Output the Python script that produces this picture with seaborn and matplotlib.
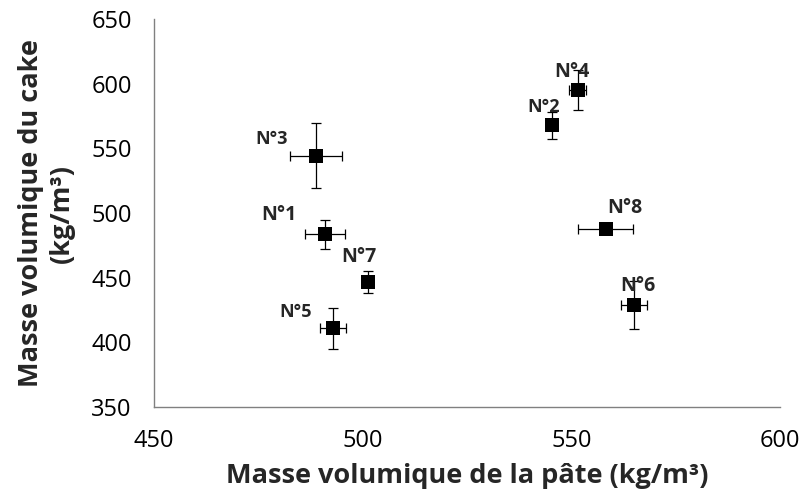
import matplotlib
matplotlib.use("Agg")
import matplotlib.pyplot as plt
import pandas as pd
import seaborn as sns

# values
labels = ["N°1", "N°2", "N°3", "N°4", "N°5", "N°6", "N°7", "N°8"]
pate = [491.0, 545.3, 488.8, 551.5, 492.9, 565.0, 501.2, 558.2]
cake = [483.5, 567.8, 544.3, 595.1, 410.8, 428.8, 446.6, 487.4]
pate_err = [4.7, 1.0, 6.2, 2.0, 3.1, 3.1, 1.0, 6.6]
cake_err = [11.0, 10.4, 25.0, 15.5, 15.7, 18.8, 8.6, 1.0]

# label offsets in points, and font size per label
label_dx = [-33, -6, -32, -4, -27, 3, -6, 14]
label_dy = [14, 13, 12, 13, 12, 14, 18, 15]
label_fs = [14, 13, 13, 14, 13, 14, 14, 14]

df = pd.DataFrame({"label": labels, "pate": pate, "cake": cake})

sns.set_style("white")
plt.rcParams["font.family"] = ["Open Sans", "DejaVu Sans"]

fig = plt.figure(figsize=(8.02, 5.01), dpi=100)
ax = fig.add_axes([0.192, 0.1876, 0.7806, 0.7744])

ax.errorbar(df["pate"], df["cake"], xerr=pate_err, yerr=cake_err, fmt="none",
            ecolor="black", elinewidth=0.9, capsize=3.5, capthick=0.9, zorder=2)
sns.scatterplot(data=df, x="pate", y="cake", marker="s", s=100, color="black",
                edgecolor="black", linewidth=0, ax=ax, zorder=3)

for i, lab in enumerate(labels):
    ax.annotate(lab, (pate[i], cake[i]), xytext=(label_dx[i], label_dy[i]),
                textcoords="offset points", ha="center", va="center",
                fontsize=label_fs[i], fontweight="bold")

ax.set_xlim(450, 600)
ax.set_ylim(350, 650)
ax.set_xticks([450, 500, 550, 600])
ax.set_yticks([350, 400, 450, 500, 550, 600, 650])

for side in ["top", "right"]:
    ax.spines[side].set_visible(False)
for side in ["left", "bottom"]:
    ax.spines[side].set_color("#808080")
    ax.spines[side].set_linewidth(1.0)
ax.tick_params(axis="both", direction="out", length=6, width=1.0, color="#808080",
               labelsize=17, labelcolor="black", pad=10)
ax.tick_params(axis="x", pad=10)

ax.set_xlabel("Masse volumique de la pâte (kg/m³)", fontsize=19.5, fontweight="bold", labelpad=7)
ax.set_ylabel("Masse volumique du cake\n(kg/m³)", fontsize=19.5, fontweight="bold",
              linespacing=1.25, labelpad=12)

fig.savefig("out.png", dpi=100)
